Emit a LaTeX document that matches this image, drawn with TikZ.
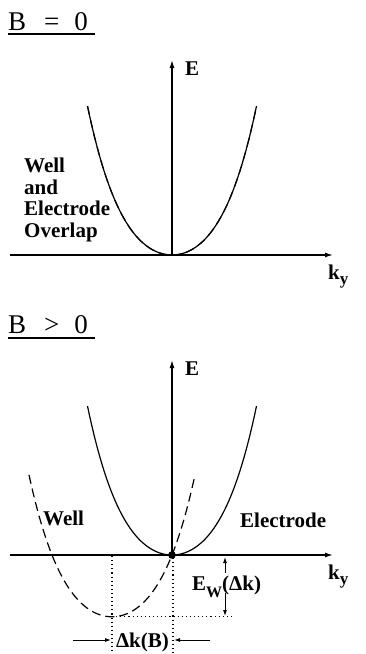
\documentclass[tikz,border=0pt]{standalone}
\usepackage{fontspec}
\setmainfont{Liberation Serif}
\usetikzlibrary{arrows.meta,calc}
\tikzset{
  axis/.style={line width=1.3pt, -{Latex[length=8pt,width=5pt]}},
  band/.style={line width=1.2pt},
  wellband/.style={line width=1.2pt, dash pattern=on 9pt off 5pt},
  guide/.style={line width=1.1pt, dash pattern=on 1.1pt off 3pt},
  dimarrow/.style={line width=0.9pt, -{Latex[length=6pt,width=4pt]}},
  lbl/.style={inner sep=0pt, font=\fontsize{21}{21.5}\selectfont\bfseries},
  ttl/.style={inner sep=0pt, font=\fontsize{27}{27}\selectfont},
}
\newcommand{\kylabel}{k\raisebox{-5pt}{\fontsize{17}{17}\selectfont y}}

\begin{document}
\begin{tikzpicture}[x=1pt, y=-1pt,
  declare function={disp(\u)=0.0134*\u*\u+pow(0.001016*\u*\u,2);}]
  \useasboundingbox (0,0) rectangle (365,654);

  % B = 0: both bands coincide
  \node[ttl, anchor=base west] (ttlzero) at (8,30) {B\hspace{18pt}=\hspace{15pt}0};
  \draw[line width=1.3pt] ([yshift=-4pt]ttlzero.base west) -- ([yshift=-4pt, xshift=7pt]ttlzero.base east);
  \begin{scope}
    \coordinate (o1) at (172,255);
    \coordinate (e1) at (172,60);
    \coordinate (w1) at (10,255);
    \coordinate (k1) at (333,255);
    \draw[axis] (o1) -- (e1);
    \draw[axis] (w1) -- (k1);
    \draw[band] plot[domain=-84.5:84.5, samples=81] ({172+\x},{255-disp(\x)});
    \draw[wellband] plot[domain=-84.5:84.5, samples=81] ({172+\x},{255-disp(\x)});
    \node[lbl, anchor=base west] (eone) at (185,75) {E};
    \node[lbl, anchor=base west] (kone) at (328,279) {\kylabel};
    \node[lbl, anchor=north west, align=left] (overlap) at (24,158) {Well\\and\\Electrode\\Overlap};
  \end{scope}

  % B > 0: well band shifted by dk
  \node[ttl, anchor=base west] (ttlpos) at (8,333) {B\hspace{18pt}>\hspace{15pt}0};
  \draw[line width=1.3pt] ([yshift=-5pt]ttlpos.base west) -- ([yshift=-5pt, xshift=7pt]ttlpos.base east);
  \begin{scope}[shift={(0,300)}]
    \coordinate (o2) at (172,255);
    \coordinate (e2) at (172,60);
    \coordinate (w2) at (10,255);
    \coordinate (k2) at (333,255);
    \coordinate (wv) at (112,{255+disp(60)});
    % guides
    \coordinate (g1a) at (112,256);
    \coordinate (g1b) at (112,354);
    \coordinate (g2a) at (173,258);
    \coordinate (g2b) at (173,354);
    \coordinate (g3) at (232,{255+disp(60)});
    \draw[guide] (g1a) -- (g1b);
    \draw[guide] (g2a) -- (g2b);
    \draw[guide] (wv) -- (g3);
    \draw[axis] (o2) -- (e2);
    \draw[axis] (w2) -- (k2);
    \draw[band] plot[domain=-84.5:84.5, samples=81] ({172+\x},{255-disp(\x)});
    \draw[wellband] plot[domain=-83:83, samples=81] ({112+\x},{255+disp(60)-disp(\x)});
    \fill (o2) circle (3.8pt);
    \node[lbl, anchor=base west] (etwo) at (185,75) {E};
    \node[lbl, anchor=base west] (ktwo) at (328,279) {\kylabel};
    \node[lbl, anchor=base west] (well) at (43,225) {Well};
    \node[lbl, anchor=base west] (electrode) at (240,227) {Electrode};
    % E_W(dk)
    \node[lbl, anchor=base west] (ew) at (192,290) {E\raisebox{-7pt}{\fontsize{16}{16}\selectfont W}(Δk)};
    \coordinate (ea1) at (225,273);
    \coordinate (ea1t) at (225,257);
    \coordinate (ea2) at (225,293);
    \coordinate (ea2t) at (225,316);
    \draw[dimarrow] (ea1) -- (ea1t);
    \draw[dimarrow] (ea2) -- (ea2t);
    % dk(B)
    \node[lbl, anchor=base] (dk) at (142.5,347) {Δk(B)};
    \coordinate (dl) at (73,340);
    \coordinate (dlt) at (111,340);
    \coordinate (dr) at (210,340);
    \coordinate (drt) at (174,340);
    \draw[dimarrow] (dl) -- (dlt);
    \draw[dimarrow] (dr) -- (drt);
  \end{scope}
\end{tikzpicture}
\end{document}
